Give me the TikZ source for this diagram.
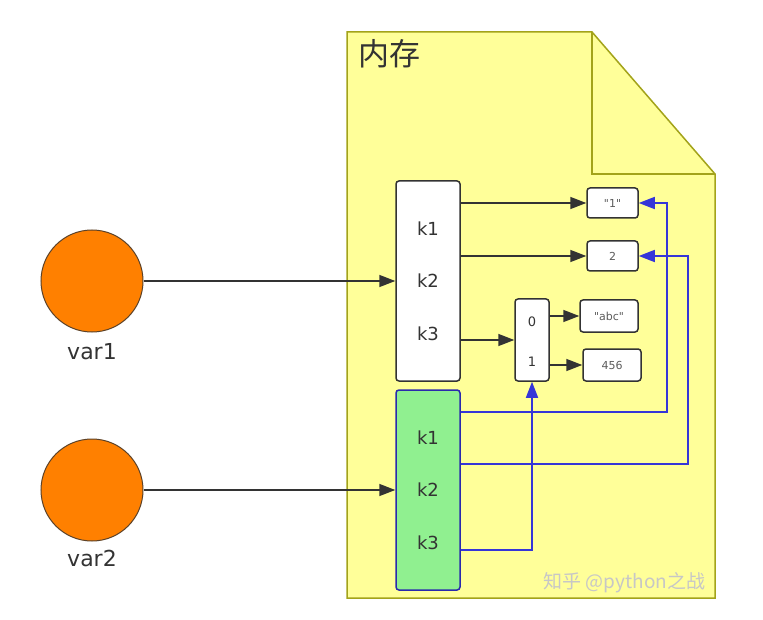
\documentclass[tikz,border=0pt]{standalone}
\usepackage{fontspec}
\setmainfont{DejaVu Sans}
\newfontfamily\cjk{Noto Sans CJK SC}
\usetikzlibrary{arrows.meta,positioning,calc}

\definecolor{memfill}{HTML}{FFFF99}
\definecolor{memline}{HTML}{A3A31A}
\definecolor{keygreen}{HTML}{90F090}
\definecolor{refblue}{HTML}{3535D8}
\definecolor{varorange}{HTML}{FF8000}
\definecolor{ink}{HTML}{333333}

\begin{document}
\begin{tikzpicture}[
    x=1pt, y=-1pt,
    font=\fontsize{18}{20}\selectfont,
    var/.style={circle, draw=ink!80!varorange, line width=1pt, fill=varorange,
                minimum size=102pt, inner sep=0pt},
    varlabel/.style={font=\fontsize{22}{25}\selectfont, text=ink},
    dictbox/.style={draw=ink, line width=1.5pt, fill=white, rounded corners=3pt,
                    minimum width=64pt, minimum height=200pt, inner sep=0pt},
    copybox/.style={dictbox, draw=refblue!80!black, fill=keygreen},
    keylabel/.style={text=ink},
    valbox/.style={draw=ink, line width=1.5pt, fill=white, rounded corners=3pt,
                   minimum height=30pt, inner sep=0pt, text=ink!80,
                   font=\fontsize{11}{13}\selectfont},
    arr/.style={-{Triangle[length=16pt,width=12pt]}, line width=1.6pt, ink},
    ref/.style={-{Triangle[length=16pt,width=12pt]}, line width=1.6pt, refblue}
  ]
  \useasboundingbox (0,0) rectangle (763,620);

  % ---------- memory page ------------------------------------------------
  \draw[memline, line width=1.5pt, fill=memfill]
    (347,32) -- (592,32) -- (715,174) -- (715,598) -- (347,598) -- cycle;
  \draw[memline, line width=1.5pt] (592,32) -- (592,174) -- (715,174);
  \node[font=\cjk\fontsize{31}{34}\selectfont, text=ink, anchor=north west]
    (memtitle) at (355,36) {内存};

  % ---------- variables --------------------------------------------------
  \node[var] (var1) at (92,281) {};
  \node[varlabel] (var1lbl) at (92,352) {var1};
  \node[var] (var2) at (92,490) {};
  \node[varlabel] (var2lbl) at (92,558) {var2};

  % ---------- dicts ------------------------------------------------------
  \node[dictbox] (dict1) at (428,281) {};
  \node[copybox] (dict2) at (428,490) {};
  \foreach \k/\dy in {1/-52,2/0,3/53}{
    \node[keylabel] (d1k\k) at ($(dict1)+(0,\dy)$) {k\k};
    \node[keylabel] (d2k\k) at ($(dict2)+(0,\dy)$) {k\k};
  }

  % ---------- values -----------------------------------------------------
  \node[valbox, minimum width=51pt] (one)  at (612.5,203)
    {\textquotedbl 1\textquotedbl};
  \node[valbox, minimum width=51pt] (two)  at (612.5,256) {2};
  \node[dictbox, minimum width=34pt, minimum height=82pt] (lst) at (532,340) {};
  \node[keylabel, font=\fontsize{13}{15}\selectfont] (lst0) at (532,322) {0};
  \node[keylabel, font=\fontsize{13}{15}\selectfont] (lst1) at (532,362) {1};
  \node[valbox, minimum width=58pt, minimum height=32pt] (abc) at (609,316)
    {\textquotedbl abc\textquotedbl};
  \node[valbox, minimum width=58pt, minimum height=32pt] (num) at (612,365) {456};

  % ---------- references -------------------------------------------------
  \draw[arr] (var1) -- (dict1);
  \draw[arr] (var2) -- (dict2);
  \draw[arr] (dict1.east |- one) -- (one);
  \draw[arr] (dict1.east |- two) -- (two);
  \draw[arr] (dict1.east |- lst) -- (lst);
  \draw[arr] (lst.east |- abc) -- (abc);
  \draw[arr] (lst.east |- num) -- (num);

  % the shallow copy shares every value with the original
  \coordinate (bend1) at (667,412);
  \coordinate (bend2) at (688,464);
  \coordinate (bend3) at (532,550);
  \draw[ref] (dict2.east |- bend1) -- (bend1) |- (one.east);
  \draw[ref] (dict2.east |- bend2) -- (bend2) |- (two.east);
  \draw[ref] (dict2.east |- bend3) -| (lst.south);

  % ---------- watermark --------------------------------------------------
  \node[font=\cjk\fontsize{19}{21}\selectfont, text=black!22, anchor=west]
    (mark) at (540,583) {知乎 @python之战};

\end{tikzpicture}
\end{document}
